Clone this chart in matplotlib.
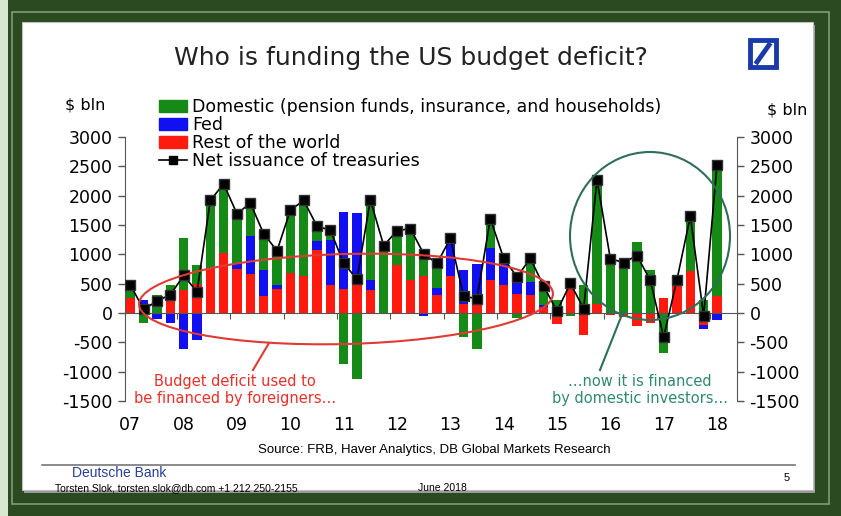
import numpy as np
import matplotlib
matplotlib.use('Agg')
import matplotlib.pyplot as plt
import matplotlib.patches as mpatches
import matplotlib.transforms as mtransforms
from matplotlib.lines import Line2D

# quarterly, 2007Q1 .. 2018Q1, $ bln
rest_of_world = [250, 0, 0, 245, 400, 500, 755, 1020, 755, 660, 285, 415, 680, 630, 1070,
                 470, 415, 490, 400, 0, 810, 555, 630, 310, 630, 160, 160, 555, 475, 330,
                 300, 100, -180, 510, -380, 160, -40, -70, -230, -170, 260, 500, 715, -210, 285]
fed = [0, 215, -110, -170, -610, -455, 0, 0, 85, 650, 445, 55, 0, 0, 160,
       770, 1305, 1215, 170, 0, 0, 0, -55, 110, 560, 570, 680, 545, 470, 200,
       230, 35, 0, 0, 0, 0, 0, 0, 0, 0, 0, 0, 0, -55, -125]
domestic = [170, -170, 310, 225, 870, 310, 1165, 1180, 850, 565, 620, 570, 1070, 1290, 250,
            170, -865, -1120, 1360, 1150, 590, 885, 380, 400, 80, -410, -610, 525, 0, -90,
            400, 365, 215, -50, 470, 2160, 965, 900, 1210, 730, -680, 85, 950, 230, 2330]
net_issuance = [480, 60, 205, 310, 640, 360, 1920, 2200, 1690, 1875, 1350, 1060, 1750, 1920, 1480,
                1410, 850, 575, 1930, 1150, 1400, 1440, 1010, 845, 1270, 285, 245, 1610, 930, 615,
                930, 460, 30, 505, 75, 2270, 925, 860, 980, 555, -410, 570, 1650, -50, 2520]
year_labels = ['07', '08', '09', '10', '11', '12', '13', '14', '15', '16', '17', '18']
y_ticks = [-1500, -1000, -500, 0, 500, 1000, 1500, 2000, 2500, 3000]

W, H = 841, 516
fig = plt.figure(figsize=(W / 100, H / 100), dpi=100, facecolor='#2b4a22')
# pixel coords, y downward
pix = mtransforms.Affine2D().scale(1 / W, -1 / H).translate(0, 1) + fig.transFigure

# frame
fig.patches.append(mpatches.Rectangle((0, 0), 8, H, transform=pix, facecolor='#d8e8d0',
                                      edgecolor='none', zorder=-3))
fig.patches.append(mpatches.Rectangle((12, 12), W - 24, H - 24, transform=pix, facecolor='none',
                                      edgecolor='#7f9c74', lw=1.2, zorder=-3))
fig.patches.append(mpatches.Rectangle((24, 25), W - 50, H - 48, transform=pix, facecolor='#9a9a9a',
                                      edgecolor='none', zorder=-2))
fig.patches.append(mpatches.Rectangle((22, 22), W - 50, H - 48, transform=pix, facecolor='white',
                                      edgecolor='#bdbdbd', lw=0.8, zorder=-1))

ax = fig.add_axes([125 / W, 1 - 401 / H, (737 - 125) / W, (401 - 137) / H])
ax.set_facecolor('none')
ax.set_zorder(2)

x = np.arange(len(net_issuance))
colors = {'rest': '#ff1a10', 'fed': '#1010f0', 'dom': '#168a16'}
pos_base = np.zeros(len(x))
neg_base = np.zeros(len(x))
for vals, c in [(rest_of_world, colors['rest']), (fed, colors['fed']), (domestic, colors['dom'])]:
    v = np.array(vals, dtype=float)
    bottom = np.where(v >= 0, pos_base, neg_base)
    ax.bar(x, v, bottom=bottom, width=0.72, color=c, edgecolor='none', zorder=2)
    pos_base = pos_base + np.where(v > 0, v, 0)
    neg_base = neg_base + np.where(v < 0, v, 0)

ax.plot(x, net_issuance, color='black', lw=1.2, marker='s', ms=7, mfc='black', mec='#333333', zorder=3)

ax.set_ylim(-1500, 3000)
ax.set_xlim(-0.4, 45.5)
ax.set_yticks(y_ticks)
ax.set_yticklabels([str(t) for t in y_ticks])
ax.tick_params(axis='y', which='both', direction='out', length=5, width=1, color='#555555',
               labelsize=12.5, left=True, right=True, labelleft=True, labelright=True, pad=4)
for s in ['left', 'right']:
    ax.spines[s].set_color('#555555')
ax.spines['top'].set_visible(False)
ax.spines['bottom'].set_position(('data', 0))
ax.spines['bottom'].set_color('#555555')
ax.set_xticks([4 * k - 0.5 for k in range(1, 12)])
ax.set_xticklabels([])
ax.tick_params(axis='x', direction='out', length=4, color='#555555')

sec = ax.secondary_xaxis('bottom')
sec.set_xticks(np.arange(0, 45, 4))
sec.set_xticklabels(year_labels)
sec.spines['bottom'].set_visible(False)
sec.tick_params(length=0, pad=11, labelsize=12.5)

handles = [mpatches.Patch(color=colors['dom']), mpatches.Patch(color=colors['fed']),
           mpatches.Patch(color=colors['rest']),
           Line2D([], [], color='black', lw=1.2, marker='s', ms=6, mfc='black')]
labels = ['Domestic (pension funds, insurance, and households)', 'Fed', 'Rest of the world',
          'Net issuance of treasuries']
leg = fig.legend(handles, labels, loc='upper left', bbox_to_anchor=(159 / W, 1 - 98 / H), frameon=False,
                 fontsize=12.5, labelspacing=0.0, handlelength=1.6, handleheight=0.75, handletextpad=0.3,
                 borderpad=0, borderaxespad=0)
leg.set_zorder(6)

# titles and texts
fig.text(411 / W, 1 - 58 / H, 'Who is funding the US budget deficit?', ha='center', va='center',
         fontsize=18, color='#222222')
fig.text(85 / W, 1 - 105 / H, '$ bln', ha='center', va='center', fontsize=11.5)
fig.text(787 / W, 1 - 110 / H, '$ bln', ha='center', va='center', fontsize=11.5)
fig.text(434 / W, 1 - 450 / H, 'Source: FRB, Haver Analytics, DB Global Markets Research',
         ha='center', va='center', fontsize=9.5, family='Liberation Sans')
fig.text(72 / W, 1 - 473 / H, 'Deutsche Bank', ha='left', va='center', fontsize=10,
         color='#27409a', family='Liberation Sans')
fig.text(55 / W, 1 - 488 / H, 'Torsten Slok, torsten.slok@db.com +1 212 250-2155', ha='left',
         va='center', fontsize=7.5, family='Liberation Sans')
fig.text(418 / W, 1 - 488 / H, 'June 2018', ha='left', va='center', fontsize=7.5, family='Liberation Sans')
fig.text(787 / W, 1 - 478 / H, '5', ha='center', va='center', fontsize=8, family='Liberation Sans')
fig.add_artist(Line2D([42, 795], [465, 465], transform=pix, color='#777777', lw=1.2))

# logo
fig.patches.append(mpatches.Rectangle((750, 40), 26, 27, transform=pix, facecolor='white',
                                      edgecolor='#1a3aa8', lw=3.5))
fig.add_artist(Line2D([757, 769], [62, 45], transform=pix, color='#1a3aa8', lw=3.5))

# annotations
fig.patches.append(mpatches.Ellipse((346, 299), 414, 90, angle=-1.5, transform=pix, facecolor='none',
                                    edgecolor='#e03a34', lw=1.5, zorder=5))
fig.add_artist(Line2D([253, 269], [370, 343], transform=pix, color='#e03a34', lw=1.5, zorder=5))
fig.text(235 / W, 1 - 390 / H, 'Budget deficit used to\nbe financed by foreigners\u2026', ha='center',
         va='center', fontsize=10.5, color='#e8302a', linespacing=1.15)
fig.patches.append(mpatches.Ellipse((650, 236), 160, 168, transform=pix, facecolor='none',
                                    edgecolor='#2e6e5a', lw=1.5, zorder=5))
fig.add_artist(Line2D([600, 623], [370, 312], transform=pix, color='#2e6e5a', lw=1.5, zorder=5))
fig.text(640 / W, 1 - 390 / H, '\u2026now it is financed\nby domestic investors\u2026', ha='center',
         va='center', fontsize=10.5, color='#2f8a6c', linespacing=1.15)

fig.savefig('out.png', dpi=100, facecolor=fig.get_facecolor())
